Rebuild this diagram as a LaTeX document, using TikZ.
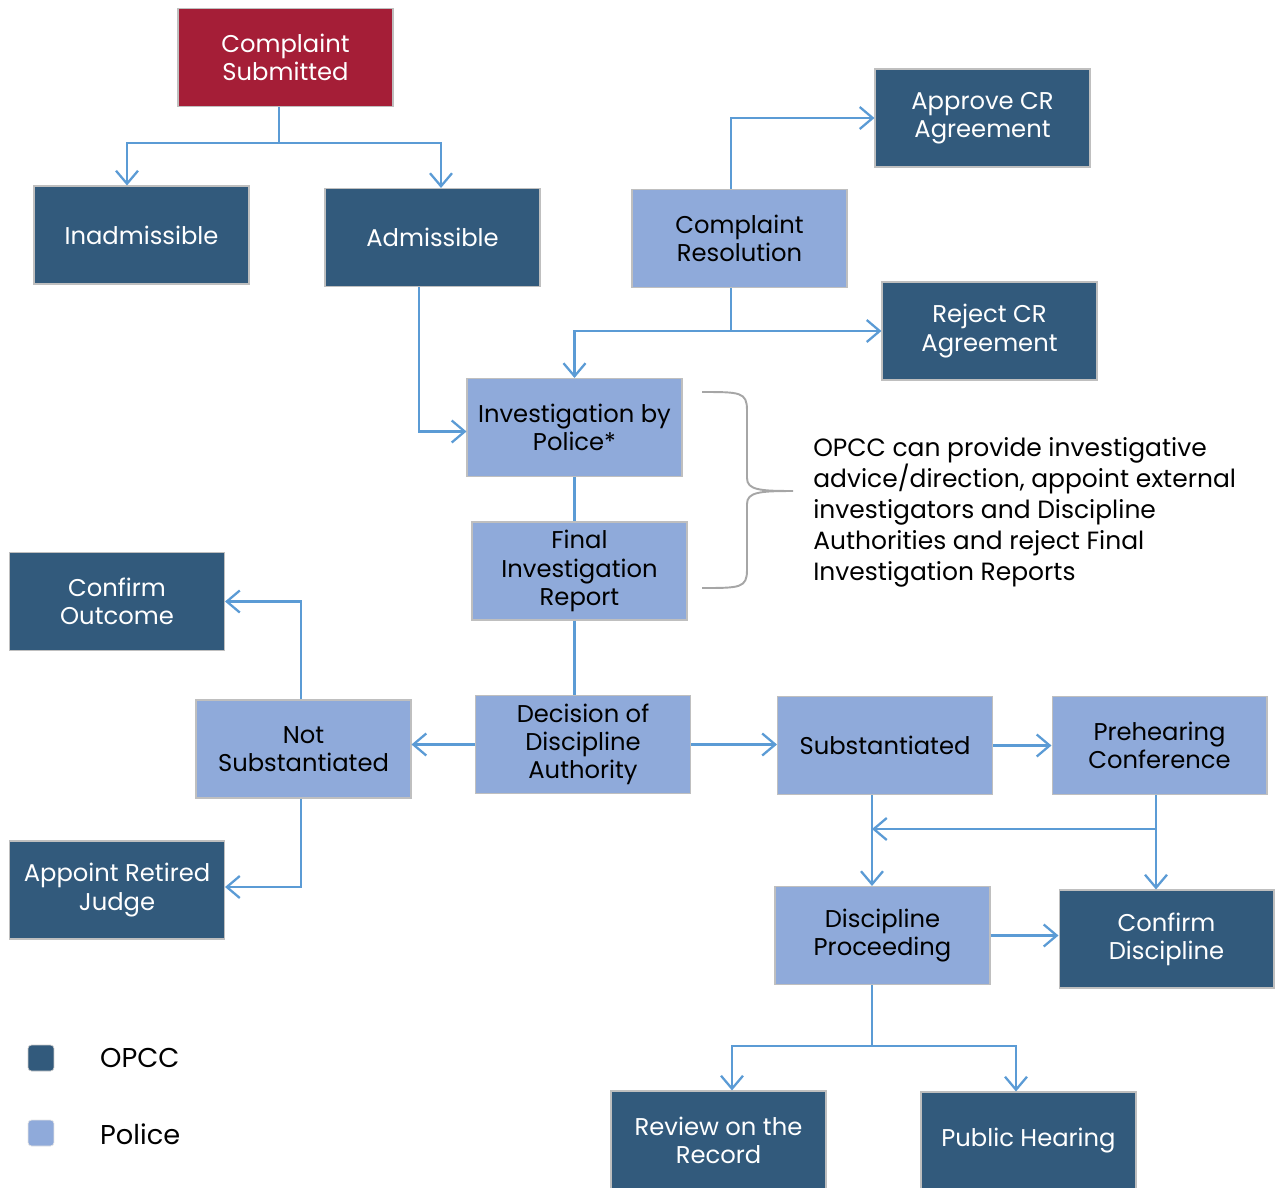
\documentclass[tikz,border=0pt]{standalone}
\usepackage{fontspec}
\setmainfont{Poppins}
\usetikzlibrary{arrows.meta}
\usetikzlibrary{positioning}
\definecolor{opcc}{HTML}{325A7C}
\definecolor{police}{HTML}{8FAADA}
\definecolor{start}{HTML}{A51E37}
\definecolor{link}{HTML}{5B9BD5}
\tikzset{x=0.02cm, y=-0.02cm,
    every node/.style={
        font=\fontsize{13.8}{16}\selectfont},
    box/.style={
        rectangle,
        minimum width=4.3cm,
        minimum height=1.96cm,
        align=center,
        draw=gray!50,
        line width=0.6pt},
    opccbox/.style={
        box,
        fill=opcc,
        text=white},
    policebox/.style={
        box,
        fill=police,
        text=black},
    startbox/.style={
        box,
        fill=start,
        text=white},
    keybox/.style={
        rounded corners=2pt,
        minimum size=0.52cm,
        inner sep=0pt},
    link/.style={
        draw=link,
        line width=1.3pt},
    arr/.style={
        link,
        -{Straight Barb[length=2.6mm,width=4.4mm,line width=1.3pt]}}}

\begin{document}
\begin{tikzpicture}
        \useasboundingbox (0,0) rectangle (1276,1188);

        \node[startbox] (submitted) at (285.5,57.5) {Complaint\\Submitted};
        \node[opccbox] (inadm) at (141.5,235) {Inadmissible};
        \node[opccbox] (adm) at (432.5,237.5) {Admissible};
        \node[opccbox] (approve) at (982.5,118) {Approve CR\\Agreement};
        \node[policebox] (resol) at (739.5,238.5) {Complaint\\Resolution};
        \node[opccbox] (reject) at (989.5,331) {Reject CR\\Agreement};
        \node[policebox] (invest) at (574.5,427.5) {Investigation by\\Police*};
        \node[policebox] (final) at (579.5,571) {Final\\Investigation\\Report};
        \node[opccbox] (confout) at (117,601.5) {Confirm\\Outcome};
        \node[policebox] (notsub) at (303.5,749) {Not\\Substantiated};
        \node[policebox] (decision) at (583,744.5) {Decision of\\Discipline\\Authority};
        \node[policebox] (subst) at (885,745.5) {Substantiated};
        \node[policebox] (prehear) at (1159.5,745.5) {Prehearing\\Conference};
        \node[opccbox] (judge) at (117,890) {Appoint Retired\\Judge};
        \node[policebox] (proceed) at (882.5,935.5) {Discipline\\Proceeding};
        \node[opccbox] (confdisc) at (1166.5,939) {Confirm\\Discipline};
        \node[opccbox] (review) at (718.5,1140) {Review on the\\Record};
        \node[opccbox] (public) at (1028.5,1141) {Public Hearing};

        \node[anchor=north west, align=left, inner sep=0pt, font=\fontsize{14.2}{17.6}\selectfont] (note) at (813,437)
            {OPCC can provide investigative\\advice/direction, appoint external\\investigators and Discipline\\Authorities and reject Final\\Investigation Reports};

        \coordinate (tip) at (793,491);
        \draw[gray!70, line width=1.1pt] (702,392) .. controls (740,392) and (747,392) .. (747,410)
            -- (747,478) .. controls (747,490) and (760,491) .. (tip)
            (tip) .. controls (760,491) and (747,492) .. (747,504)
            -- (747,570) .. controls (747,588) and (740,588) .. (702,588);

        \coordinate (split1) at (279,143);
        \draw[link] (split1 |- submitted.south) -- (split1);
        \draw[arr] (split1) -| ([xshift=-0.29cm]inadm.north);
        \draw[arr] (split1) -| ([xshift=0.17cm]adm.north);

        \draw[arr] ([xshift=-0.27cm]adm.south) |- ([yshift=-0.08cm]invest.west);

        \draw[arr] ([xshift=-0.17cm]resol.north) |- (approve.west);
        \coordinate (split2) at (731,331);
        \draw[link] (split2 |- resol.south) -- (split2);
        \draw[arr] (split2) -- (reject.west);
        \draw[arr] (split2) -| (invest.north);

        \draw[link] (invest.south) -- (invest.south |- final.north);
        \draw[link] (invest.south |- final.south) -- (invest.south |- decision.north);

        \draw[arr] (decision.west) -- (decision.west -| notsub.east);
        \draw[arr] ([xshift=-0.05cm]notsub.north) |- (confout.east);
        \draw[arr] ([xshift=-0.05cm]notsub.south) |- ([yshift=0.06cm]judge.east);

        \draw[arr] (decision.east) -- (decision.east -| subst.west);
        \draw[arr] (subst.east) -- (prehear.west);

        \coordinate (split3) at (872,829);
        \draw[arr] (split3 |- subst.south) -- (split3 |- proceed.north);
        \draw[arr] ([xshift=-0.07cm]prehear.south) -- ([xshift=-0.07cm]prehear.south |- confdisc.north);
        \draw[arr] ([xshift=-0.07cm]prehear.south |- split3) -- (split3);
        \draw[arr] (proceed.east) -- (proceed.east -| confdisc.west);

        \coordinate (split4) at (872,1046);
        \draw[link] (split4 |- proceed.south) -- (split4);
        \draw[arr] (split4) -| ([xshift=0.27cm]review.north);
        \draw[arr] (split4) -| ([xshift=-0.25cm]public.north);

        \node[keybox, fill=opcc, draw=gray!40] (keyopcc) at (41,1058) {};
        \node[keybox, fill=police, draw=gray!20] (keypolice) at (41,1133) {};
        \node[anchor=west, font=\fontsize{15.5}{18}\selectfont] (keyopcctext) at (94,1058) {OPCC};
        \node[anchor=west, font=\fontsize{15.5}{18}\selectfont] (keypolicetext) at (94,1134) {Police};
    \end{tikzpicture}
\end{document}
